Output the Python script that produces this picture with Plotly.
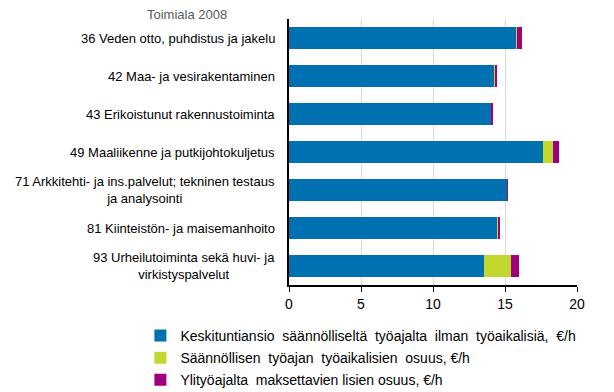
import plotly.graph_objects as go

categories = [
    "36 Veden otto, puhdistus ja jakelu",
    "42 Maa- ja vesirakentaminen",
    "43 Erikoistunut rakennustoiminta",
    "49 Maaliikenne ja putkijohtokuljetus",
    "71 Arkkitehti- ja ins.palvelut; tekninen testaus<br>ja analysointi",
    "81 Kiinteistön- ja maisemanhoito",
    "93 Urheilutoiminta sekä huvi- ja<br>virkistyspalvelut",
]
base_pay = [15.78, 14.25, 14.08, 17.65, 15.15, 14.45, 13.53]
shift_pay = [0.07, 0.10, 0.01, 0.70, 0.00, 0.07, 1.90]
overtime_pay = [0.32, 0.07, 0.08, 0.42, 0.05, 0.14, 0.56]
series_names = [
    "Keskituntiansio  säännölliseltä  työajalta  ilman  työaikalisiä,  €/h",
    "Säännöllisen  työajan  työaikalisien  osuus, €/h",
    "Ylityöajalta  maksettavien lisien osuus, €/h",
]
colors = ["#0071B0", "#C3D82E", "#A0007E"]
title_text = "Toimiala 2008"
x_ticks = [0, 5, 10, 15, 20]

FONT = "Liberation Sans, Arial"

fig = go.Figure()
for i, (name, vals, col) in enumerate(zip(series_names, [base_pay, shift_pay, overtime_pay], colors)):
    fig.add_trace(go.Bar(
        y=categories, x=vals, name=name, orientation="h", legendgroup=f"g{i}",
        marker=dict(color=col, line=dict(width=0)),
    ))

for c in categories:
    fig.add_annotation(
        x=-0.04, xref="paper", y=c, yref="y", text=c, showarrow=False,
        xanchor="right", yanchor="middle", align="center",
        font=dict(family=FONT, size=13, color="#000000"),
    )

fig.add_annotation(
    x=(187 - 289) / 288, xref="paper", y=(285 - 15) / 266, yref="paper", text=title_text,
    showarrow=False, xanchor="center", yanchor="middle",
    font=dict(family=FONT, size=13, color="#595959"),
)

# page body has 8px margin; compensate so the plot area lands at 289..577 x 19..285
fig.update_layout(
    barmode="stack",
    bargap=0.42,
    width=606, height=384,
    margin=dict(l=281, r=37, t=11, b=107, autoexpand=False),
    paper_bgcolor="white", plot_bgcolor="white",
    font=dict(family=FONT, size=13, color="#000000"),
    legend=dict(
        x=-0.516, y=-0.131, xanchor="left", yanchor="top",
        traceorder="grouped", itemwidth=30, tracegroupgap=1,
        font=dict(size=14), bgcolor="rgba(0,0,0,0)",
    ),
    xaxis=dict(
        range=[0, 20], tickvals=x_ticks, showgrid=True, gridcolor="#D9D9D9", gridwidth=1,
        showline=True, linecolor="#000000", linewidth=2, ticks="outside", ticklen=5,
        tickcolor="#000000", tickwidth=1, zeroline=False,
        tickfont=dict(size=14),
    ),
    yaxis=dict(
        autorange="reversed", showticklabels=False, showline=True, linecolor="#000000",
        linewidth=2, showgrid=False, ticks="", zeroline=False,
    ),
)

fig.write_html("out.html")
